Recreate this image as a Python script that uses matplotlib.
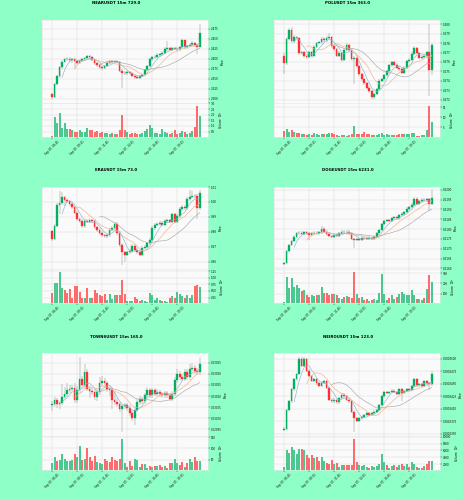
import matplotlib
matplotlib.use('Agg')
import matplotlib.pyplot as plt
import numpy as np

W, H = 464, 500
BG = '#8effc6'
UP, DN = '#00b060', '#fe3032'
VUP, VDN = '#4dc790', '#fd6b6c'
WICK = '#7a7a7a'
MAVC = ['#8cb4d6', '#f4b183', '#a8a8a8']
MAVS = [5, 10, 20]

time_ticks = [0, 10, 20, 30, 40, 50]
time_labels = ['Sep 07, 06:45', 'Sep 07, 09:15', 'Sep 07, 11:45',
               'Sep 07, 14:15', 'Sep 07, 16:45', 'Sep 07, 19:15']

titles = ['NEARUSDT 15m 729.0', 'POLUSDT 15m 363.0', 'ERAUSDT 15m 73.0',
          'DOGEUSDT 15m 6231.0', 'TOWNSUSDT 15m 165.0', 'NEIROUSDT 15m 123.0']

# ---------------- NEAR ----------------
near_open0 = 2.311
near_close = [2.305,2.337,2.356,2.378,2.392,2.398,2.400,2.397,2.399,2.394,
              2.390,2.395,2.398,2.401,2.406,2.404,2.396,2.388,2.383,2.378,
              2.376,2.382,2.390,2.393,2.391,2.393,2.392,2.370,2.365,2.363,
              2.367,2.363,2.356,2.353,2.351,2.356,2.360,2.372,2.381,2.398,
              2.403,2.405,2.409,2.411,2.414,2.425,2.426,2.422,2.426,2.425,
              2.423,2.428,2.446,2.428,2.431,2.435,2.440,2.434,2.430,2.464]
near_high = [2.314,2.339,2.360,2.381,2.397,2.402,2.404,2.403,2.402,2.401,
             2.397,2.398,2.401,2.404,2.410,2.409,2.406,2.398,2.391,2.386,
             2.381,2.385,2.393,2.396,2.396,2.396,2.395,2.394,2.373,2.368,
             2.370,2.369,2.365,2.358,2.356,2.359,2.363,2.375,2.384,2.401,
             2.407,2.409,2.413,2.415,2.418,2.429,2.444,2.429,2.429,2.429,
             2.428,2.431,2.448,2.447,2.434,2.438,2.443,2.442,2.437,2.487]
near_low = [2.300,2.303,2.334,2.352,2.375,2.388,2.393,2.392,2.390,2.374,
            2.386,2.387,2.392,2.395,2.399,2.400,2.393,2.385,2.380,2.374,
            2.372,2.374,2.380,2.387,2.388,2.389,2.388,2.367,2.328,2.359,
            2.360,2.360,2.353,2.350,2.348,2.349,2.354,2.358,2.369,2.379,
            2.395,2.400,2.402,2.405,2.408,2.412,2.420,2.418,2.419,2.421,
            2.419,2.420,2.426,2.425,2.425,2.428,2.432,2.430,2.411,2.428]
near_vol = [0.15,1.75,1.30,2.15,0.85,1.25,0.70,0.70,0.60,0.45,
            0.45,0.60,0.50,0.45,0.85,0.60,0.60,0.45,0.55,0.35,
            0.45,0.35,0.40,0.25,0.35,0.30,0.30,0.60,2.00,0.60,
            0.45,0.30,0.35,0.35,0.25,0.30,0.35,0.55,0.70,1.10,
            0.85,0.40,0.40,0.30,0.70,0.45,0.35,0.25,0.35,0.60,
            0.30,0.35,0.55,0.45,0.30,0.35,0.55,0.90,2.80,1.85]
near_pticks = [2.300,2.325,2.350,2.375,2.400,2.425,2.450,2.475]
near_vticks = [0.5,1.0,1.5,2.0,2.5,3.0]

# ---------------- POL ----------------
pol_open0 = 0.27668
pol_close = [0.27584,0.27843,0.27941,0.27818,0.27864,0.27853,0.27696,0.27703,0.27661,0.27654,
             0.27703,0.27661,0.27759,0.27801,0.27808,0.27843,0.27829,0.27853,0.27864,0.27766,
             0.27738,0.27668,0.27696,0.27619,0.27731,0.27783,0.27731,0.27633,0.27645,0.27556,
             0.27469,0.27416,0.27374,0.27329,0.27294,0.27224,0.27259,0.27311,0.27399,0.27416,
             0.27458,0.27503,0.27563,0.27598,0.27573,0.27538,0.27521,0.27486,0.27538,0.27608,
             0.27626,0.27689,0.27748,0.27696,0.27643,0.27654,0.27661,0.27703,0.27514,0.27783]
pol_high = [0.27690,0.27860,0.27958,0.27975,0.27885,0.27880,0.27865,0.27720,0.27715,0.27680,
            0.27720,0.27715,0.27775,0.27815,0.27825,0.27860,0.27860,0.27870,0.27906,0.27875,
            0.27780,0.27750,0.27715,0.27710,0.27750,0.27800,0.27795,0.27745,0.27660,0.27660,
            0.27570,0.27485,0.27430,0.27390,0.27345,0.27305,0.27275,0.27325,0.27415,0.27435,
            0.27475,0.27520,0.27580,0.27615,0.27615,0.27590,0.27555,0.27535,0.27555,0.27625,
            0.27645,0.27705,0.27770,0.27760,0.27710,0.27670,0.27680,0.27720,0.28005,0.27800]
pol_low = [0.27469,0.27570,0.27830,0.27800,0.27805,0.27835,0.27675,0.27670,0.27640,0.27630,
           0.27640,0.27645,0.27650,0.27745,0.27790,0.27795,0.27815,0.27815,0.27840,0.27750,
           0.27720,0.27650,0.27655,0.27600,0.27605,0.27720,0.27715,0.27615,0.27364,0.27540,
           0.27455,0.27400,0.27355,0.27310,0.27275,0.27212,0.27210,0.27245,0.27300,0.27385,
           0.27400,0.27445,0.27490,0.27550,0.27560,0.27525,0.27505,0.27470,0.27475,0.27525,
           0.27595,0.27615,0.27675,0.27680,0.27630,0.27630,0.27640,0.27645,0.27240,0.27460]
pol_vol = [2.9,4.0,2.6,3.8,2.6,2.1,2.1,1.4,1.7,1.2,
           1.7,1.2,2.1,1.4,1.2,1.7,1.4,1.7,2.1,2.1,
           1.4,0.9,0.7,1.0,1.0,0.7,0.9,1.4,5.7,1.4,
           1.4,1.4,2.4,1.4,1.7,1.0,1.0,0.9,1.4,2.1,
           1.0,1.4,1.0,0.9,1.0,0.9,1.4,1.4,1.4,1.4,
           1.7,2.1,2.2,0.7,0.7,0.9,1.0,3.8,15.9,7.6]
pol_pticks = [0.272,0.273,0.274,0.275,0.276,0.277,0.278,0.279,0.280]
pol_vticks = [5,10,15]

# ---------------- ERA ----------------
era_open0 = 0.98032
era_close = [0.97530,0.98420,0.99813,0.99904,1.00315,1.00132,1.00041,0.99858,0.99630,0.99288,
             0.98831,0.98717,0.98374,0.98717,0.98671,0.98763,0.98717,0.98306,0.98123,0.97918,
             0.97758,0.97689,0.97758,0.98146,0.98260,0.98534,0.97918,0.97119,0.96616,0.96479,
             0.96616,0.96708,0.97050,0.96776,0.96616,0.96479,0.96936,0.97005,0.97233,0.97461,
             0.98260,0.98489,0.98534,0.98603,0.98489,0.98717,0.98763,0.98671,0.99174,0.98671,
             0.99059,0.99516,0.99676,0.99584,1.00201,1.00361,1.00429,1.00384,0.99584,1.00589]
era_high = [0.98150,0.98530,0.99950,1.00703,1.00658,1.00430,1.00250,1.00160,0.99980,0.99750,
            0.99400,0.98950,0.98830,0.98830,0.98830,0.98880,0.98880,0.98830,0.98420,0.98240,
            0.98030,0.97870,0.97870,0.98260,0.98370,0.98650,0.98650,0.98030,0.97230,0.96730,
            0.96730,0.96820,0.97160,0.97160,0.96890,0.96730,0.97050,0.97120,0.97350,0.97580,
            0.98370,0.98600,0.98650,0.98720,0.98720,0.98830,0.98880,0.98880,0.99290,0.99290,
            0.99170,0.99630,0.99790,0.99790,1.00320,1.00772,1.00703,1.00540,1.00500,1.00772]
era_low = [0.97393,0.97420,0.98300,0.99174,0.99790,0.99700,0.99930,0.99740,0.99510,0.99170,
           0.98720,0.98600,0.98260,0.98260,0.98560,0.98560,0.98600,0.98190,0.98010,0.97800,
           0.97640,0.97570,0.97570,0.97640,0.98030,0.98150,0.97800,0.97000,0.95749,0.95977,
           0.96360,0.96500,0.96590,0.96660,0.96500,0.96360,0.96360,0.96820,0.96890,0.97120,
           0.97350,0.98150,0.98370,0.98420,0.98370,0.98370,0.98600,0.98560,0.98560,0.98560,
           0.98560,0.98940,0.99400,0.99470,0.99470,1.00090,1.00250,1.00270,0.98830,0.99470]
era_vol = [0.42,0.82,0.79,1.21,0.62,0.53,0.42,0.57,0.24,0.70,
           0.70,0.46,0.25,0.24,0.62,0.24,0.25,0.55,0.42,0.36,
           0.29,0.39,0.16,0.39,0.20,0.33,0.36,0.33,0.92,0.37,
           0.13,0.13,0.13,0.26,0.20,0.13,0.17,0.13,0.09,0.42,
           0.33,0.17,0.25,0.17,0.13,0.13,0.09,0.22,0.30,0.24,
           0.46,0.37,0.29,0.22,0.36,0.22,0.33,0.70,0.72,0.66]
era_pticks = [0.96,0.97,0.98,0.99,1.00,1.01]
era_vticks = [0.25,0.50,0.75,1.00,1.25]

# ---------------- DOGE ----------------
doge_open0 = 0.21620
doge_close = [0.21628,0.21689,0.21719,0.21739,0.21761,0.21778,0.21782,0.21775,0.21783,0.21778,
              0.21770,0.21778,0.21782,0.21778,0.21783,0.21803,0.21787,0.21773,0.21766,0.21761,
              0.21770,0.21766,0.21778,0.21787,0.21783,0.21787,0.21778,0.21750,0.21745,0.21750,
              0.21746,0.21756,0.21753,0.21750,0.21756,0.21750,0.21761,0.21778,0.21795,0.21824,
              0.21840,0.21845,0.21840,0.21857,0.21862,0.21854,0.21871,0.21879,0.21887,0.21904,
              0.21913,0.21924,0.21955,0.21929,0.21941,0.21950,0.21946,0.21951,0.21929,0.21958]
doge_high = [0.21634,0.21695,0.21726,0.21746,0.21768,0.21785,0.21789,0.21788,0.21790,0.21789,
             0.21784,0.21785,0.21788,0.21788,0.21790,0.21815,0.21810,0.21793,0.21780,0.21772,
             0.21777,0.21776,0.21785,0.21794,0.21793,0.21794,0.21793,0.21784,0.21756,0.21757,
             0.21756,0.21763,0.21762,0.21759,0.21763,0.21762,0.21768,0.21785,0.21802,0.21831,
             0.21847,0.21852,0.21851,0.21864,0.21869,0.21868,0.21878,0.21886,0.21894,0.21911,
             0.21920,0.21931,0.21962,0.21961,0.21948,0.21957,0.21956,0.21958,0.21957,0.21997]
doge_low = [0.21615,0.21622,0.21683,0.21713,0.21733,0.21755,0.21772,0.21769,0.21769,0.21772,
            0.21745,0.21764,0.21772,0.21772,0.21772,0.21777,0.21781,0.21767,0.21760,0.21755,
            0.21755,0.21760,0.21760,0.21772,0.21777,0.21777,0.21772,0.21744,0.21706,0.21739,
            0.21740,0.21740,0.21747,0.21744,0.21744,0.21744,0.21744,0.21755,0.21772,0.21789,
            0.21818,0.21834,0.21834,0.21834,0.21851,0.21848,0.21848,0.21865,0.21873,0.21881,
            0.21898,0.21907,0.21918,0.21923,0.21923,0.21935,0.21940,0.21940,0.21890,0.21923]
doge_vol = [17,260,150,250,167,183,150,123,133,83,
            67,83,77,90,90,160,107,107,83,100,
            100,83,57,50,63,77,67,57,307,100,
            57,67,40,50,30,33,43,33,110,293,
            100,37,57,83,50,63,100,117,100,90,
            83,133,83,50,43,40,60,143,283,210]
doge_pticks = [0.2160,0.2165,0.2170,0.2175,0.2180,0.2185,0.2190,0.2195,0.2200]
doge_vticks = [100,200,300]

# ---------------- TOWNS ----------------
towns_open0 = 0.0300580
towns_close = [0.0300655,0.0300805,0.0300655,0.0300685,0.0300955,0.0301075,0.0301255,0.0301330,0.0301375,0.0300805,
               0.0301255,0.0301780,0.0301480,0.0302080,0.0301330,0.0301225,0.0301180,0.0300955,0.0301180,0.0301585,
               0.0301675,0.0301585,0.0301330,0.0301255,0.0300835,0.0300730,0.0300625,0.0300430,0.0300535,0.0300580,
               0.0300475,0.0300235,0.0300025,0.0300385,0.0300730,0.0300880,0.0300775,0.0301030,0.0301285,0.0301030,
               0.0301255,0.0301105,0.0301180,0.0301075,0.0301030,0.0301135,0.0301030,0.0300880,0.0301105,0.0301705,
               0.0302005,0.0301855,0.0301780,0.0302080,0.0301855,0.0302230,0.0302275,0.0302125,0.0302080,0.0302455]
towns_high = [0.030076,0.030095,0.030090,0.030080,0.030156,0.030140,0.030160,0.030150,0.030150,0.030160,
              0.030145,0.0302755,0.030190,0.0302455,0.030220,0.030145,0.030135,0.030130,0.030130,0.030185,
              0.030190,0.030180,0.030170,0.030145,0.030140,0.030120,0.030090,0.030075,0.030065,0.030070,
              0.030068,0.030060,0.030035,0.030050,0.030085,0.030100,0.030098,0.030115,0.030140,0.030138,
              0.030137,0.030136,0.030130,0.030128,0.030118,0.030125,0.030124,0.030114,0.030122,0.030185,
              0.030220,0.030212,0.030198,0.030222,0.030220,0.030245,0.030250,0.030240,0.030225,0.0302725]
towns_low = [0.030035,0.030055,0.030045,0.030040,0.030058,0.030085,0.030096,0.030115,0.030122,0.030068,
             0.030070,0.030114,0.030137,0.030137,0.030122,0.030090,0.030105,0.030082,0.030080,0.030105,
             0.030147,0.030147,0.030120,0.030100,0.030040,0.030060,0.030050,0.030030,0.029938,0.030042,
             0.030035,0.030010,0.029990,0.029968,0.030028,0.030062,0.030066,0.030066,0.030092,0.030092,
             0.030092,0.030099,0.030099,0.030096,0.030092,0.030092,0.030092,0.030077,0.030077,0.030099,
             0.030159,0.030174,0.030167,0.030167,0.030174,0.030174,0.030212,0.030201,0.030197,0.030197]
towns_vol = [35,62,46,49,77,54,46,42,49,74,
             62,111,49,54,100,62,46,66,38,34,
             31,54,46,38,62,49,46,54,142,35,
             18,46,23,52,49,18,31,31,12,23,
             18,23,23,28,18,23,12,37,35,51,
             35,28,38,18,35,51,38,62,42,43]
towns_pticks = [0.02995,0.03000,0.03005,0.03010,0.03015,0.03020,0.03025]
towns_vticks = [50,100,150]

# ---------------- NEIRO (prices in units of 1e-4 USDT) ----------------
neiro_open0 = 3.3583
neiro_close = [3.3604,3.3978,3.4149,3.4387,3.4591,3.4693,3.5000,3.4864,3.5000,3.4762,
               3.4659,3.4557,3.4591,3.4510,3.4455,3.4523,3.4557,3.4421,3.4183,3.4149,
               3.4183,3.4128,3.4217,3.4285,3.4251,3.4183,3.4149,3.3944,3.3808,3.3760,
               3.3808,3.3842,3.3876,3.3910,3.3876,3.3910,3.3944,3.3978,3.4080,3.4251,
               3.4332,3.4319,3.4332,3.4366,3.4332,3.4305,3.4387,3.4319,3.4353,3.4401,
               3.4373,3.4455,3.4591,3.4469,3.4489,3.4455,3.4557,3.4510,3.4489,3.4693]
neiro_high = [3.3630,3.4000,3.4175,3.4410,3.4615,3.4720,3.5034,3.5030,3.5034,3.5025,
              3.4790,3.4685,3.4615,3.4615,3.4535,3.4550,3.4580,3.4580,3.4445,3.4210,
              3.4210,3.4205,3.4240,3.4310,3.4310,3.4275,3.4205,3.4175,3.3970,3.3830,
              3.3830,3.3865,3.3900,3.3935,3.3935,3.3935,3.3970,3.4000,3.4105,3.4275,
              3.4355,3.4355,3.4355,3.4390,3.4390,3.4355,3.4410,3.4410,3.4375,3.4425,
              3.4425,3.4480,3.4615,3.4615,3.4510,3.4510,3.4580,3.4580,3.4535,3.4762]
neiro_low = [3.3560,3.3580,3.3955,3.4125,3.4365,3.4565,3.4670,3.4840,3.4840,3.4740,
             3.4635,3.4530,3.4530,3.4485,3.4430,3.4430,3.4500,3.4395,3.4160,3.4125,
             3.4125,3.4105,3.4105,3.4195,3.4225,3.4160,3.4125,3.3920,3.3535,3.3735,
             3.3735,3.3785,3.3820,3.3850,3.3850,3.3850,3.3885,3.3920,3.3955,3.4055,
             3.4225,3.4295,3.4295,3.4310,3.4310,3.4280,3.4280,3.4149,3.4295,3.4330,
             3.4350,3.4350,3.4430,3.4445,3.4445,3.4430,3.4430,3.4485,3.4380,3.4465]
neiro_vol = [1130,6050,5230,6980,6050,5030,6460,6460,6050,4510,
             3690,4720,3690,4210,2980,4210,2980,2360,2150,3180,
             2050,2360,1130,1640,1640,1640,1640,1850,9340,2670,
             1850,1330,1640,1130,820,1330,1130,1330,2150,4920,
             2460,1640,920,1330,1850,1130,1640,2150,1330,2150,
             1130,2670,2050,1130,920,920,1330,2150,2870,2870]
neiro_pticks = [3.350,3.375,3.400,3.425,3.450,3.475,3.500]
neiro_vticks = [2000,4000,6000,8000,10000]
NEIRO_UNIT = 1e-4

panels = [
    (near_open0, near_close, near_high, near_low, near_vol, near_pticks, '%.3f', near_vticks, '%.1f', 6, 1.0),
    (pol_open0, pol_close, pol_high, pol_low, pol_vol, pol_pticks, '%.3f', pol_vticks, '%.0f', 6, 1.0),
    (era_open0, era_close, era_high, era_low, era_vol, era_pticks, '%.2f', era_vticks, '%.2f', 6, 1.0),
    (doge_open0, doge_close, doge_high, doge_low, doge_vol, doge_pticks, '%.4f', doge_vticks, '%.0f', 6, 1.0),
    (towns_open0, towns_close, towns_high, towns_low, towns_vol, towns_pticks, '%.5f', towns_vticks, '%.0f', 3, 1.0),
    (neiro_open0, neiro_close, neiro_high, neiro_low, neiro_vol, neiro_pticks, '%.7f', neiro_vticks, '%.0f', 6, NEIRO_UNIT),
]

plt.rcParams['font.family'] = ['DejaVu Sans']
fig = plt.figure(figsize=(W / 100, H / 100), dpi=100, facecolor=BG)

FS = 2.0
for k, (o0, cl, hi, lo, vol, pticks, pfmt, vticks, vfmt, vexp, unit) in enumerate(panels):
    r, c = divmod(k, 2)
    off = r * H / 3.0
    lpx = [41.7, 273.7][c]
    wpx = 166.3
    axp = fig.add_axes([lpx / W, 1 - (off + 102.5) / H, wpx / W, 82.5 / H])
    axv = fig.add_axes([lpx / W, 1 - (off + 136.7) / H, wpx / W, 34.2 / H], sharex=axp)

    cl = np.array(cl) * unit
    hi = np.array(hi) * unit
    lo = np.array(lo) * unit
    op = np.concatenate([[o0 * unit], cl[:-1]])
    vol = np.array(vol, dtype=float)
    n = len(cl)
    x = np.arange(n)
    up = cl >= op
    ccol = np.where(up, UP, DN)
    vcol = np.where(up, VUP, VDN)

    for ax in (axp, axv):
        ax.set_facecolor('#fafafa')
        ax.grid(True, color='#d8d8d8', linewidth=0.3)
        ax.set_axisbelow(True)
        for s in ax.spines.values():
            s.set_color('#e6e6e6')
            s.set_linewidth(0.4)
        ax.yaxis.tick_right()
        ax.yaxis.set_label_position('right')
        ax.tick_params(labelsize=FS, length=1.2, width=0.3, pad=0.8, colors='#101010')

    axp.vlines(x, lo, hi, color=WICK, linewidth=0.3, zorder=2)
    axp.bar(x, np.abs(cl - op), bottom=np.minimum(op, cl), width=0.62,
            color=ccol, edgecolor=ccol, linewidth=0.25, zorder=3)
    for m, mc in zip(MAVS, MAVC):
        ma = np.convolve(cl, np.ones(m) / m, mode='valid')
        axp.plot(x[m - 1:], ma, color=mc, linewidth=0.45, zorder=4)

    rng = hi.max() - lo.min()
    axp.set_ylim(lo.min() - 0.05 * rng, hi.max() + 0.05 * rng)
    pt = np.array(pticks) * unit
    axp.set_yticks(pt)
    axp.set_yticklabels([pfmt % v for v in pt])
    axp.set_ylabel('Price', fontsize=FS, labelpad=1.5)
    axp.tick_params(axis='x', labelbottom=False)

    axv.bar(x, vol, width=0.7, color=vcol, linewidth=0, zorder=3)
    axv.set_ylim(0.3 * vol.min(), 1.1 * vol.max())
    axv.set_yticks(vticks)
    axv.set_yticklabels([vfmt % v for v in vticks])
    axv.set_ylabel('Volume  $10^{%d}$' % vexp, fontsize=FS, labelpad=1.5)

    axp.set_xlim(-4.2, 62.3)
    axv.set_xticks(time_ticks)
    axv.set_xticklabels(time_labels, rotation=45, ha='center', fontsize=FS)

    fig.text((c * 232 + 116) / W, 1 - (off + 3.2) / H, titles[k], ha='center', va='center',
             fontsize=2.8, fontweight='bold')

fig.savefig('out.png', dpi=100, facecolor=BG)
